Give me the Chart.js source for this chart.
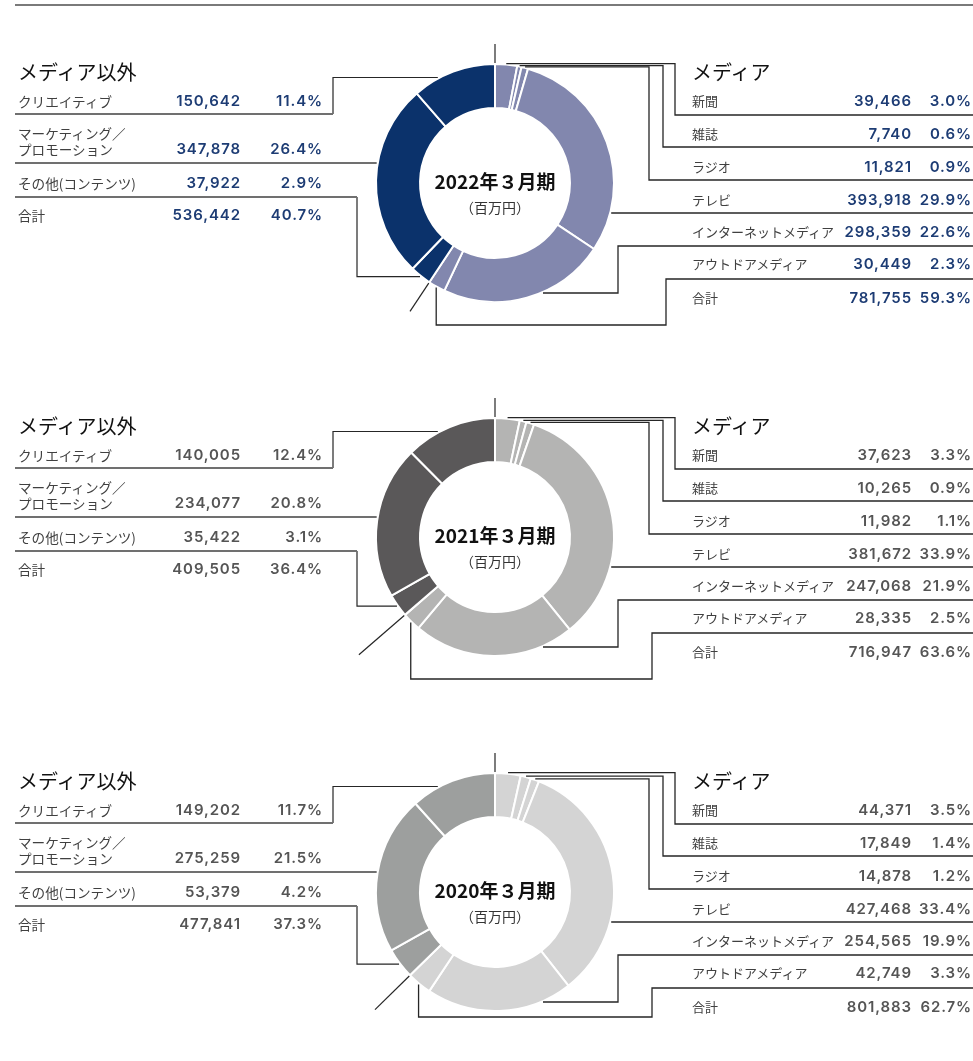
<!DOCTYPE html>
<html lang="ja">
<head>
<meta charset="utf-8">
<script src="https://cdn.jsdelivr.net/npm/chart.js@4.4.1/dist/chart.umd.min.js"></script>
<style>
body { margin: 0; background: #fff; font-family: "Noto Sans CJK JP", sans-serif; }
#page { position: relative; width: 973px; height: 1061px; overflow: hidden; }
.topline { position: absolute; left: 15px; top: 4px; width: 958px; border-top: 2px solid #7a7a7a; }
.panel { position: absolute; left: 0; width: 973px; height: 350px; }
.panel canvas { position: absolute; left: 0; top: 0; }
.t { position: absolute; white-space: nowrap; line-height: 18px; height: 18px; }
.head { font-size: 20px; color: #111; }
.lab { font-size: 13px; color: #404040; }
.lab.wide { font-size: 13.6px; }
.num { font-family: Inter, "Noto Sans CJK JP", sans-serif; font-size: 15px; font-weight: 600; letter-spacing: 0.9px; text-align: right; }
.ctitle { font-size: 19px; font-weight: 600; color: #111; text-align: center; }
.cunit { font-size: 14px; color: #333; text-align: center; }
</style>
</head>
<body>
<div id="page"><div class="topline"></div></div>
<script>
// categories
var years = ['2022年３月期', '2021年３月期', '2020年３月期'];
var mediaLabels = ['新聞', '雑誌', 'ラジオ', 'テレビ', 'インターネットメディア', 'アウトドアメディア'];
var otherLabels = ['クリエイティブ', 'マーケティング／|プロモーション', 'その他(コンテンツ)'];

// 2022年3月期 (百万円)
var media2022 = [39466, 7740, 11821, 393918, 298359, 30449];
var mediaPct2022 = [3.0, 0.6, 0.9, 29.9, 22.6, 2.3];
var other2022 = [150642, 347878, 37922];
var otherPct2022 = [11.4, 26.4, 2.9];
var totals2022 = [781755, 536442];
var totalPct2022 = [59.3, 40.7];

// 2021年3月期
var media2021 = [37623, 10265, 11982, 381672, 247068, 28335];
var mediaPct2021 = [3.3, 0.9, 1.1, 33.9, 21.9, 2.5];
var other2021 = [140005, 234077, 35422];
var otherPct2021 = [12.4, 20.8, 3.1];
var totals2021 = [716947, 409505];
var totalPct2021 = [63.6, 36.4];

// 2020年3月期
var media2020 = [44371, 17849, 14878, 427468, 254565, 42749];
var mediaPct2020 = [3.5, 1.4, 1.2, 33.4, 19.9, 3.3];
var other2020 = [149202, 275259, 53379];
var otherPct2020 = [11.7, 21.5, 4.2];
var totals2020 = [801883, 477841];
var totalPct2020 = [62.7, 37.3];

var panels = [
    { year: years[0], media: media2022, mediaPct: mediaPct2022, other: other2022, otherPct: otherPct2022,
      totals: totals2022, totalPct: totalPct2022, top: 0,
      mediaColor: '#8287ae', otherColor: '#0b326b', valueColor: '#1d3c74',
      outdoorDrop: 142, outdoorElbow: 666, splitLen: 154 },
    { year: years[1], media: media2021, mediaPct: mediaPct2021, other: other2021, otherPct: otherPct2021,
      totals: totals2021, totalPct: totalPct2021, top: 354,
      mediaColor: '#b4b4b3', otherColor: '#5a5859', valueColor: '#555',
      outdoorDrop: 142, outdoorElbow: 652, splitLen: 180 },
    { year: years[2], media: media2020, mediaPct: mediaPct2020, other: other2020, otherPct: otherPct2020,
      totals: totals2020, totalPct: totalPct2020, top: 709,
      mediaColor: '#d4d4d4', otherColor: '#9d9f9e', valueColor: '#555',
      outdoorDrop: 125, outdoorElbow: 652, splitLen: 168 }
];

// layout (panel-local pixels)
var L_TEXT_Y = [101, 149, 183, 215];
var L_LINE_Y = [114, 163, 197];
var R_TEXT_Y = [101, 134, 167, 200, 232, 264, 298];
var R_LINE_Y = [115, 147, 180, 213, 246, 279];
var R_ELBOW = [675, 663, 649];

function fmt(v) { return v.toLocaleString('en-US'); }
function pct(v) { return v.toFixed(1) + '%'; }

function addText(parent, cls, text, x, y, w, color) {
    var d = document.createElement('div');
    d.className = 't ' + cls;
    d.textContent = text;
    d.style.top = (y - 9) + 'px';
    if (w) {
        d.style.left = (x - w) + 'px';
        d.style.width = w + 'px';
    } else {
        d.style.left = x + 'px';
    }
    if (color) d.style.color = color;
    parent.appendChild(d);
}

function leaders(p) {
    return {
        id: 'leaders',
        afterDraw: function (chart) {
            var ctx = chart.ctx;
            var arcs = chart.getDatasetMeta(0).data;
            var cx = arcs[0].x, cy = arcs[0].y, R = arcs[0].outerRadius + 1;
            function at(a, r) { return [cx + r * Math.cos(a), cy + r * Math.sin(a)]; }
            function mid(i) { return (arcs[i].startAngle + arcs[i].endAngle) / 2; }
            function hit(y, side) { return cx + side * Math.sqrt(Math.max(R * R - (y - cy) * (y - cy), 0)); }
            function path(pts, color, w) {
                ctx.save();
                ctx.strokeStyle = color;
                ctx.lineWidth = w;
                ctx.beginPath();
                ctx.moveTo(pts[0][0], pts[0][1]);
                for (var k = 1; k < pts.length; k++) ctx.lineTo(pts[k][0], pts[k][1]);
                ctx.stroke();
                ctx.restore();
            }
            var dark = '#262626', grey = '#707070';

            // 新聞 / 雑誌 / ラジオ
            for (var i = 0; i < 3; i++) {
                var m = at(mid(i), R);
                path([m, [R_ELBOW[i], m[1]], [R_ELBOW[i], R_LINE_Y[i]], [973, R_LINE_Y[i]]], dark, 1.3);
            }
            // テレビ
            path([[hit(R_LINE_Y[3], 1), R_LINE_Y[3]], [973, R_LINE_Y[3]]], dark, 1.3);
            // インターネットメディア
            var yn = cy + 110;
            path([[hit(yn, 1), yn], [618, yn], [618, R_LINE_Y[4]], [973, R_LINE_Y[4]]], dark, 1.3);
            // アウトドアメディア
            var mo = at(mid(5), R);
            var yd = cy + p.outdoorDrop;
            path([mo, [mo[0], yd], [p.outdoorElbow, yd], [p.outdoorElbow, R_LINE_Y[5]], [973, R_LINE_Y[5]]], dark, 1.3);

            // クリエイティブ
            var yc = cy - 105.5;
            path([[hit(yc, -1), yc], [333, yc], [333, L_LINE_Y[0]]], dark, 1.2);
            path([[333, L_LINE_Y[0]], [15, L_LINE_Y[0]]], grey, 2);
            // マーケティング／プロモーション
            path([[hit(L_LINE_Y[1], -1), L_LINE_Y[1]], [15, L_LINE_Y[1]]], grey, 2);
            // その他
            var mc = at(mid(6), R);
            path([mc, [357, mc[1]], [357, L_LINE_Y[2]]], dark, 1.2);
            path([[357, L_LINE_Y[2]], [15, L_LINE_Y[2]]], grey, 2);

            // start tick and media / non-media split
            path([[cx, cy - R], [cx, cy - R - 19]], dark, 1.2);
            var a = arcs[5].endAngle;
            path([at(a, R), at(a, p.splitLen)], dark, 1.2);
        }
    };
}

var page = document.getElementById('page');

panels.forEach(function (p, n) {
    var box = document.createElement('div');
    box.className = 'panel';
    box.style.top = p.top + 'px';
    page.appendChild(box);

    var canvas = document.createElement('canvas');
    canvas.width = 973;
    canvas.height = 350;
    box.appendChild(canvas);

    var values = p.media.concat([p.other[2], p.other[1], p.other[0]]);
    var labels = mediaLabels.concat([otherLabels[2], otherLabels[1], otherLabels[0]]);
    var colors = values.map(function (v, i) { return i < 6 ? p.mediaColor : p.otherColor; });

    new Chart(canvas.getContext('2d'), {
        type: 'doughnut',
        data: {
            labels: labels,
            datasets: [{
                data: values,
                backgroundColor: colors,
                borderColor: '#fff',
                borderWidth: 2
            }]
        },
        options: {
            responsive: false,
            animation: false,
            events: [],
            cutout: '63%',
            layout: { padding: { left: 375, right: 358, top: 63, bottom: 47 } },
            plugins: { legend: { display: false }, tooltip: { enabled: false } }
        },
        plugins: [leaders(p)]
    });

    // centre
    addText(box, 'ctitle', p.year, 595, 181, 200);
    addText(box, 'cunit', '（百万円）', 595, 207, 200);

    // メディア以外
    addText(box, 'head', 'メディア以外', 18, 72);
    for (var i = 0; i < 3; i++) {
        var parts = otherLabels[i].split('|');
        if (parts.length > 1) {
            addText(box, 'lab wide', parts[0], 18, L_TEXT_Y[i] - 16);
            addText(box, 'lab wide', parts[1], 18, L_TEXT_Y[i]);
        } else {
            addText(box, 'lab wide', parts[0], 18, L_TEXT_Y[i]);
        }
        addText(box, 'num', fmt(p.other[i]), 241, L_TEXT_Y[i], 100, p.valueColor);
        addText(box, 'num', pct(p.otherPct[i]), 323, L_TEXT_Y[i], 70, p.valueColor);
    }
    addText(box, 'lab wide', '合計', 18, L_TEXT_Y[3]);
    addText(box, 'num', fmt(p.totals[1]), 241, L_TEXT_Y[3], 100, p.valueColor);
    addText(box, 'num', pct(p.totalPct[1]), 323, L_TEXT_Y[3], 70, p.valueColor);

    // メディア
    addText(box, 'head', 'メディア', 692, 72);
    for (var j = 0; j < 6; j++) {
        addText(box, 'lab', mediaLabels[j], 692, R_TEXT_Y[j]);
        addText(box, 'num', fmt(p.media[j]), 912, R_TEXT_Y[j], 100, p.valueColor);
        addText(box, 'num', pct(p.mediaPct[j]), 972, R_TEXT_Y[j], 60, p.valueColor);
    }
    addText(box, 'lab', '合計', 692, R_TEXT_Y[6]);
    addText(box, 'num', fmt(p.totals[0]), 912, R_TEXT_Y[6], 100, p.valueColor);
    addText(box, 'num', pct(p.totalPct[0]), 972, R_TEXT_Y[6], 60, p.valueColor);
});
</script>
</body>
</html>
